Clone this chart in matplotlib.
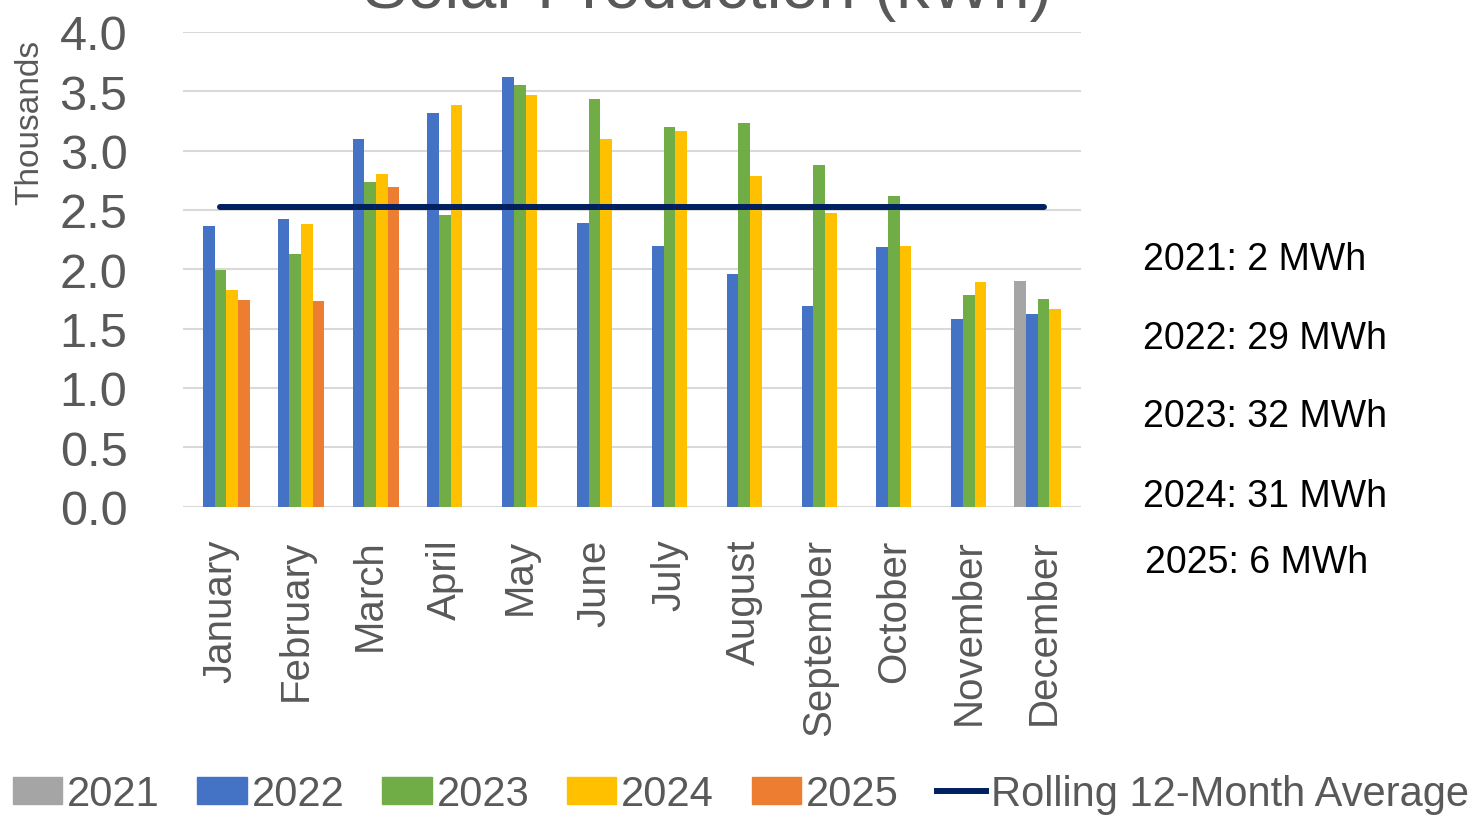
import numpy as np
import matplotlib
matplotlib.use("Agg")
import matplotlib.pyplot as plt
from matplotlib.patches import Patch
from matplotlib.lines import Line2D

plt.rcParams['font.family'] = ['Liberation Sans', 'DejaVu Sans']

months = ['January', 'February', 'March', 'April', 'May', 'June', 'July',
          'August', 'September', 'October', 'November', 'December']
nan = np.nan
# monthly production in kWh
y2021 = [nan, nan, nan, nan, nan, nan, nan, nan, nan, nan, nan, 1900]
y2022 = [2365, 2423, 3099, 3318, 3621, 2390, 2200, 1960, 1689, 2190, 1580, 1623]
y2023 = [1994, 2130, 2736, 2458, 3554, 3436, 3200, 3234, 2880, 2618, 1783, 1750]
y2024 = [1826, 2380, 2804, 3385, 3470, 3099, 3166, 2787, 2475, 2200, 1893, 1665]
y2025 = [1741, 1733, 2694, nan, nan, nan, nan, nan, nan, nan, nan, nan]
rolling_avg = [2525, 2525, 2525, 2525, 2525, 2525, 2525, 2525, 2525, 2525, 2525, 2525]

years = ['2021', '2022', '2023', '2024', '2025']
colors = ['#A5A5A5', '#4472C4', '#70AD47', '#FFC000', '#ED7D31']
totals = ['2021: 2 MWh', '2022: 29 MWh', '2023: 32 MWh', '2024: 31 MWh', '2025: 6 MWh']

grey = '#595959'
fig = plt.figure(figsize=(14.73, 8.2), dpi=100)
ax = fig.add_axes([183/1473, 1 - 507.5/820, 898/1473, 474.5/820])

x = np.arange(len(months))
w = 0.156
series = [y2021, y2022, y2023, y2024, y2025]
for i, vals in enumerate(series):
    v = np.array(vals, dtype=float) / 1000
    ax.bar(x + (i - 2) * w, v, width=w, color=colors[i], zorder=2)

ax.plot(x, np.array(rolling_avg) / 1000, color='#002060', lw=4.3,
        solid_capstyle='round', zorder=3)

ax.set_xlim(-0.5, 11.5)
ax.set_ylim(0, 4.0)
ax.set_yticks(np.arange(0, 4.01, 0.5))
ax.set_yticklabels([f'{t:.1f}' for t in np.arange(0, 4.01, 0.5)])
ax.set_xticks(x)
ax.set_xticklabels(months, rotation=90, va='top', ha='center')
ax.tick_params(axis='y', length=0, pad=40, labelsize=35, labelcolor=grey)
ax.tick_params(axis='x', length=0, pad=23, labelsize=29, labelcolor=grey)
for s in ax.spines.values():
    s.set_visible(False)
ax.grid(axis='y', color='#D9D9D9', lw=1.5, zorder=0)
ax.set_axisbelow(True)

fig.text(30/1473, 1 - 122/820, 'Thousands', rotation=90, ha='center',
         va='center', fontsize=24, color=grey)
fig.text(707/1473, 1 - 8/820, 'Solar Production (kWh)', ha='center',
         va='baseline', fontsize=48, color=grey)

text_y = [260, 339, 417, 497, 563]
text_x = [1143, 1143, 1143, 1143, 1145]
for t, tx, ty in zip(totals, text_x, text_y):
    fig.text(tx/1473, 1 - ty/820, t, ha='left', va='center', fontsize=27,
             color='black')

handles = [Patch(color=c, label=yr) for c, yr in zip(colors, years)]
handles.append(Line2D([0], [0], color='#002060', lw=4.3,
                      label='Rolling 12-Month Average'))
leg = fig.legend(handles=handles, loc='center', bbox_to_anchor=(0.503, 25/820),
                 ncol=6, frameon=False, fontsize=30, handlelength=1.18,
                 handleheight=0.62, handletextpad=0.12, columnspacing=0.91,
                 borderpad=0, borderaxespad=0)
for t in leg.get_texts():
    t.set_color(grey)

fig.savefig('out.png', dpi=100)
